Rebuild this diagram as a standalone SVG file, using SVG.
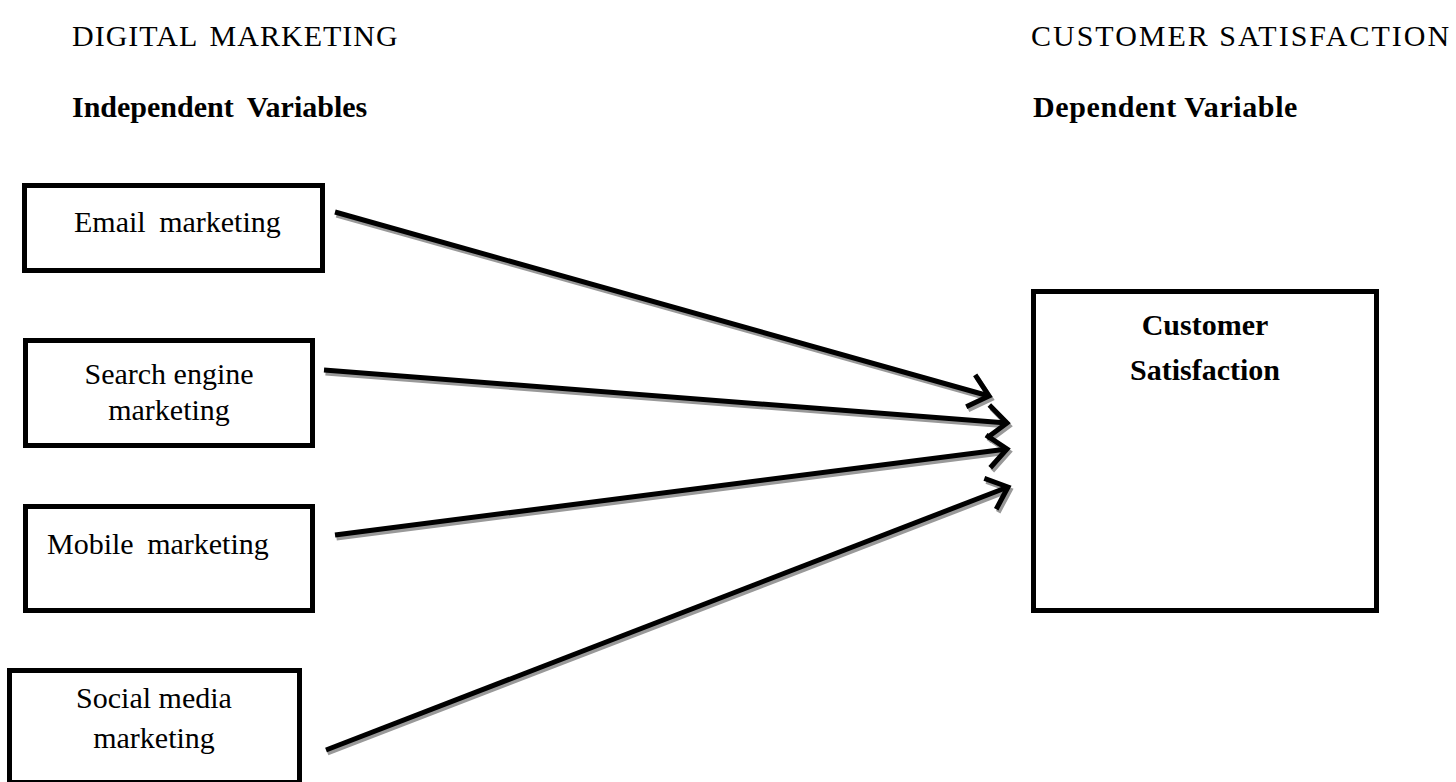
<svg xmlns="http://www.w3.org/2000/svg" width="1456" height="782" viewBox="0 0 1456 782">
<style>
text{font-family:"Liberation Serif","Times New Roman",serif;font-size:30px;fill:#000}
.b{font-weight:bold}
.box{fill:#fff;stroke:#000;stroke-width:5}
.ln{fill:none;stroke:#000;stroke-width:5}
.sh{fill:none;stroke:#999;stroke-width:5}
</style>
<defs>
<marker id="ah" viewBox="-5 -5 7 10" refX="0" refY="0" markerWidth="7" markerHeight="10" orient="auto" markerUnits="strokeWidth">
<path d="M-3.8,-3.3 L0,0 L-3.8,3.3" fill="none" stroke="#000" stroke-width="1"/>
</marker>
<marker id="ahs" viewBox="-5 -5 7 10" refX="0" refY="0" markerWidth="7" markerHeight="10" orient="auto" markerUnits="strokeWidth">
<path d="M-3.8,-3.3 L0,0 L-3.8,3.3" fill="none" stroke="#999" stroke-width="1"/>
</marker>
</defs>
<rect width="1456" height="782" fill="#fff"/>
<g id="headers">
<text x="72" y="46" word-spacing="4" letter-spacing="1">DIGITAL MARKETING</text>
<text x="72" y="117" class="b" word-spacing="6">Independent Variables</text>
<text x="1031" y="46" letter-spacing="2">CUSTOMER SATISFACTION</text>
<text x="1033" y="117" class="b" letter-spacing="0.6">Dependent Variable</text>
</g>
<g id="connectors">
<line class="sh" x1="336.5" y1="215" x2="991" y2="399" marker-end="url(#ahs)"/>
<line class="sh" x1="325.5" y1="373" x2="1009" y2="426" marker-end="url(#ahs)"/>
<line class="sh" x1="336.5" y1="538" x2="1009" y2="452" marker-end="url(#ahs)"/>
<line class="sh" x1="327.5" y1="753" x2="1010" y2="490" marker-end="url(#ahs)"/>
<line class="ln" x1="335" y1="212" x2="989" y2="396" marker-end="url(#ah)"/>
<line class="ln" x1="324" y1="370" x2="1007" y2="423" marker-end="url(#ah)"/>
<line class="ln" x1="335" y1="535" x2="1007" y2="449" marker-end="url(#ah)"/>
<line class="ln" x1="326" y1="750" x2="1008" y2="487" marker-end="url(#ah)"/>
</g>
<g id="email">
<rect class="box" x="24.5" y="185.5" width="298" height="85"/>
<text x="74" y="232" word-spacing="6">Email marketing</text>
</g>
<g id="search">
<rect class="box" x="25.5" y="340.5" width="287" height="105"/>
<text x="169" y="384" text-anchor="middle">Search engine</text>
<text x="169" y="420" text-anchor="middle">marketing</text>
</g>
<g id="mobile">
<rect class="box" x="25.5" y="506.5" width="287" height="104"/>
<text x="47" y="554" word-spacing="6">Mobile marketing</text>
</g>
<g id="social">
<rect class="box" x="9.5" y="670.5" width="290" height="112"/>
<text x="154" y="708" text-anchor="middle">Social media</text>
<text x="154" y="748" text-anchor="middle">marketing</text>
</g>
<g id="customer">
<rect class="box" x="1033.5" y="291.5" width="343" height="319"/>
<text x="1205" y="335" class="b" text-anchor="middle">Customer</text>
<text x="1205" y="380" class="b" text-anchor="middle">Satisfaction</text>
</g>
</svg>
